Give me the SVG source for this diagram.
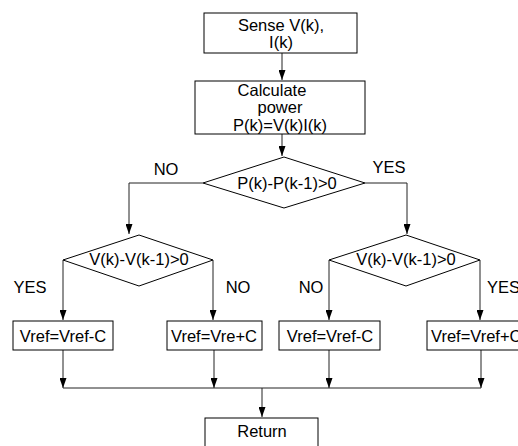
<svg xmlns="http://www.w3.org/2000/svg" width="518" height="446" viewBox="0 0 518 446">
<style>
.box{fill:#fff;stroke:#000;stroke-width:1}
text{font-family:"Liberation Sans",Arial,sans-serif;font-size:16.5px;fill:#000;text-anchor:middle}
.lbl{font-size:16.5px}
.c{fill:none;stroke:#222;stroke-width:1}
</style>
<defs>
<marker id="ah" markerUnits="userSpaceOnUse" markerWidth="10" markerHeight="7" refX="10" refY="3.5" orient="auto">
<path d="M0,0 L10,3.5 L0,7 z" fill="#000"/>
</marker>
</defs>
<rect width="518" height="446" fill="#fff"/>
<g id="connectors">
<path class="c" d="M282,53 V80" marker-end="url(#ah)"/>
<path class="c" d="M282,134 V156" marker-end="url(#ah)"/>
<path class="c" d="M203,183 H129 V234" marker-end="url(#ah)"/>
<path class="c" d="M365,183 H407 V234" marker-end="url(#ah)"/>
<path class="c" d="M63,260 V320" marker-end="url(#ah)"/>
<path class="c" d="M213,260 V320" marker-end="url(#ah)"/>
<path class="c" d="M329,260 V320" marker-end="url(#ah)"/>
<path class="c" d="M480,260 V320" marker-end="url(#ah)"/>
<path class="c" d="M63,350 V388" marker-end="url(#ah)"/>
<path class="c" d="M214,350 V388" marker-end="url(#ah)"/>
<path class="c" d="M329,350 V388" marker-end="url(#ah)"/>
<path class="c" d="M481,350 V388" marker-end="url(#ah)"/>
<path class="c" d="M63,388 H481"/>
<path class="c" d="M262,388 V417" marker-end="url(#ah)"/>
<text x="166" y="175">NO</text>
<text x="389" y="173">YES</text>
<text x="30" y="293">YES</text>
<text x="238" y="293">NO</text>
<text x="311" y="293">NO</text>
<text x="487" y="293" style="text-anchor:start">YES</text>
</g>
<g id="sense">
<rect class="box" x="204" y="13" width="153" height="40"/>
<text x="281" y="31">Sense V(k),</text>
<text x="281" y="48">I(k)</text>
</g>
<g id="calc">
<rect class="box" x="195" y="81" width="170" height="53"/>
<text x="272" y="96">Calculate</text>
<text x="280" y="113">power</text>
<text x="280" y="131">P(k)=V(k)I(k)</text>
</g>
<g id="dp">
<polygon class="box" points="284,157 365,183 284,208 203,183"/>
<text x="287" y="189">P(k)-P(k-1)&gt;0</text>
</g>
<g id="dvl">
<polygon class="box" points="139,235 213,260 139,286 63,260"/>
<text x="139" y="265">V(k)-V(k-1)&gt;0</text>
</g>
<g id="dvr">
<polygon class="box" points="406,235 480,260 406,286 329,260"/>
<text x="406" y="265">V(k)-V(k-1)&gt;0</text>
</g>
<g id="b1">
<rect class="box" x="13" y="321" width="100" height="29"/>
<text x="63" y="342">Vref=Vref-C</text>
</g>
<g id="b2">
<rect class="box" x="167" y="321" width="95" height="29"/>
<text x="214" y="342">Vref=Vre+C</text>
</g>
<g id="b3">
<rect class="box" x="279" y="321" width="101" height="29"/>
<text x="330" y="342">Vref=Vref-C</text>
</g>
<g id="b4">
<rect class="box" x="427" y="321" width="100" height="29"/>
<text x="431" y="342" style="text-anchor:start">Vref=Vref+C</text>
</g>
<g id="ret">
<rect class="box" x="205" y="418" width="113" height="40"/>
<text x="262" y="437">Return</text>
</g>
</svg>
